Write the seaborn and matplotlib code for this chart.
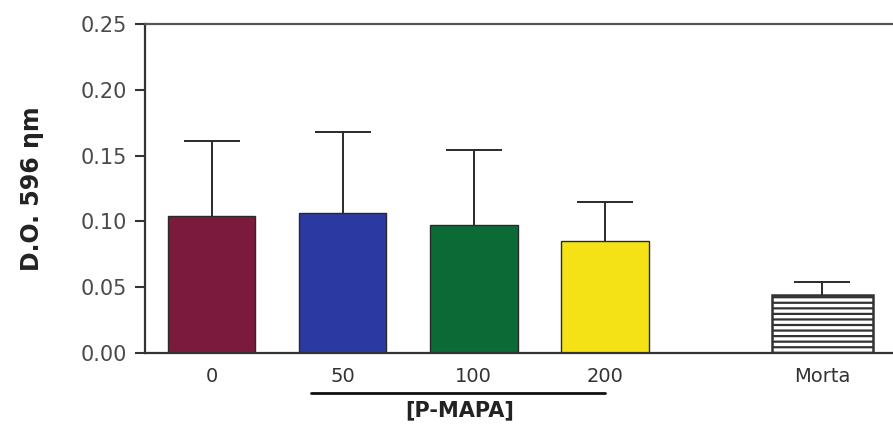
import matplotlib
matplotlib.use("Agg")
import matplotlib.pyplot as plt
import matplotlib.transforms as mtransforms
import seaborn as sns
import pandas as pd
import numpy as np

# ---- data ----
categories = ["0", "50", "100", "200", "Morta"]
positions = [0.0, 1.0, 2.0, 3.0, 4.66]
means = [0.104, 0.106, 0.097, 0.085, 0.044]
upper_err = [0.057, 0.062, 0.057, 0.030, 0.010]
colors = ["#7c1a3e", "#2a3aa2", "#0b6a36", "#f4e116", "#ffffff"]
yticks = [0.00, 0.05, 0.10, 0.15, 0.20, 0.25]
group_label = "[P-MAPA]"
ylabel = "D.O. 596 \u03b7m"

sns.set_style("ticks")
plt.rcParams["font.family"] = ["DejaVu Sans"]
plt.rcParams["hatch.linewidth"] = 1.6
plt.rcParams["hatch.color"] = "#333333"

fig = plt.figure(figsize=(8.93, 4.26), dpi=100)
ax = fig.add_axes([0.162, 0.1714, 0.838, 0.7723])

df = pd.DataFrame({"pos": positions, "mean": means, "cat": categories})
main = df.iloc[:4]
morta = df.iloc[4:]
pal = dict(zip(categories, colors))

sns.barplot(data=main, x="pos", y="mean", hue="cat", palette=pal, saturation=1,
            native_scale=True, dodge=False, width=0.67, errorbar=None, legend=False,
            edgecolor="#2a2a2a", linewidth=1.0, ax=ax)
sns.barplot(data=morta, x="pos", y="mean", hue="cat", palette=pal, saturation=1,
            native_scale=True, dodge=False, width=0.77, errorbar=None, legend=False,
            edgecolor="#333333", linewidth=1.8, hatch="---", ax=ax)

# one-sided (upper) error bars
eb = ax.errorbar(positions, means, yerr=[np.zeros(len(means)), upper_err], fmt="none",
                 ecolor="#2a2a2a", elinewidth=1.4, capsize=20, capthick=1.4, zorder=3)
for cl in eb[1]:
    if np.allclose(cl.get_ydata(), means):
        cl.set_visible(False)

ax.set_xlim(-0.51, 5.2)
ax.set_ylim(0, 0.25)
ax.set_yticks(yticks)
ax.set_yticklabels([f"{t:.2f}" for t in yticks])
ax.set_xticks(positions)
ax.set_xticklabels(categories)
ax.set_xlabel("")
ax.set_ylabel(ylabel, fontsize=17, fontweight="bold", color="#222222", labelpad=26)

ax.tick_params(axis="y", direction="out", length=7, width=1.5, colors="#333333",
               labelsize=15, labelcolor="#4a4a4a", pad=6)
ax.tick_params(axis="x", length=0, labelsize=14, labelcolor="#333333", pad=10)

for s in ["left", "bottom", "top"]:
    ax.spines[s].set_visible(True)
    ax.spines[s].set_color("#333333")
    ax.spines[s].set_linewidth(1.6)
ax.spines["top"].set_color("#555555")
ax.spines["right"].set_visible(False)

# group bracket and label under 50-200
trans = mtransforms.blended_transform_factory(ax.transData, ax.transAxes)
ax.plot([0.76, 3.0], [-0.122, -0.122], color="#111111", lw=2, transform=trans, clip_on=False)
ax.text(1.89, -0.175, group_label, transform=trans, ha="center", va="center",
        fontsize=15, fontweight="bold", color="#222222")

fig.savefig("out.png", dpi=100, facecolor="white")
